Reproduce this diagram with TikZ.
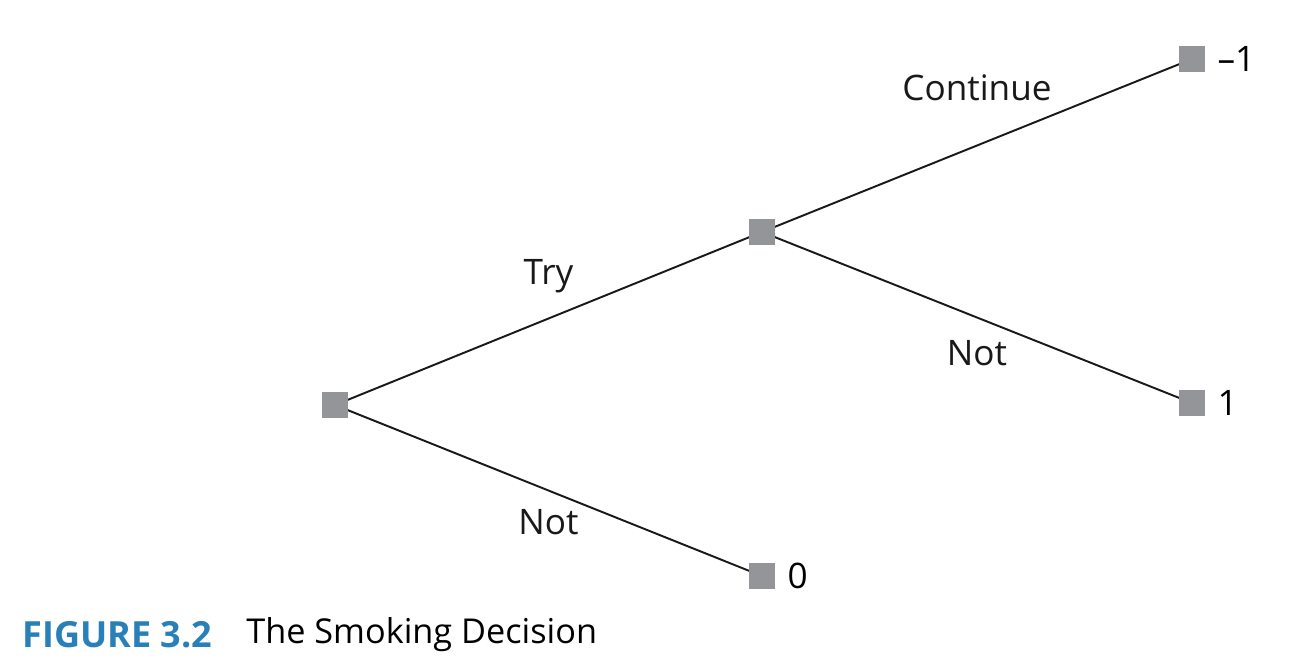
\documentclass[tikz,border=0pt]{standalone}
\usepackage{fontspec}
\setmainfont{Open Sans}
\usetikzlibrary{positioning}

\definecolor{boxgray}{RGB}{147,149,152}
\definecolor{figblue}{RGB}{41,128,185}

\begin{document}
\begin{tikzpicture}[x=0.02cm, y=-0.02cm,
    every node/.style={font=\fontsize{20}{24}\selectfont},
    dnode/.style={fill=boxgray, minimum size=0.5cm, inner sep=0pt},
    branch/.style={line width=1.1pt, black!90},
    lbl/.style={inner sep=0pt}]
  %----- frame -----
  \useasboundingbox (0,0) rectangle (1300,670);
  %----- decision nodes -----
  \node[dnode] (root) at (335,405) {};
  \node[dnode] (mid)  at (762,232) {};
  \node[dnode] (cont) at (1192,59) {};
  \node[dnode] (quit) at (1192,403) {};
  \node[dnode] (nev)  at (762,576) {};
  %----- payoffs -----
  \node[right=7pt of cont, lbl] {–1};
  \node[right=7pt of quit, lbl] {1};
  \node[right=7pt of nev, lbl] {0};
  %----- branches -----
  \draw[branch] (root.center) -- (mid.center)  node[midway, yshift=24pt] {Try};
  \draw[branch] (root.center) -- (nev.center)  node[midway, yshift=-18pt] {Not};
  \draw[branch] (mid.center)  -- (cont.center) node[midway, yshift=33pt] {Continue};
  \draw[branch] (mid.center)  -- (quit.center) node[midway, yshift=-20pt] {Not};
  % redraw boxes over the lines
  \foreach \n in {root,mid,cont,quit,nev}
    \fill[boxgray] (\n.south west) rectangle (\n.north east);
  %----- caption -----
  \node[anchor=west, lbl, text=figblue, font=\fontsize{20.5}{24}\selectfont\bfseries] (fig) at (22,635) {FIGURE 3.2};
  \node[anchor=west, lbl, font=\fontsize{19.5}{24}\selectfont] (cap) at (246,635) {The Smoking Decision};
\end{tikzpicture}
\end{document}
